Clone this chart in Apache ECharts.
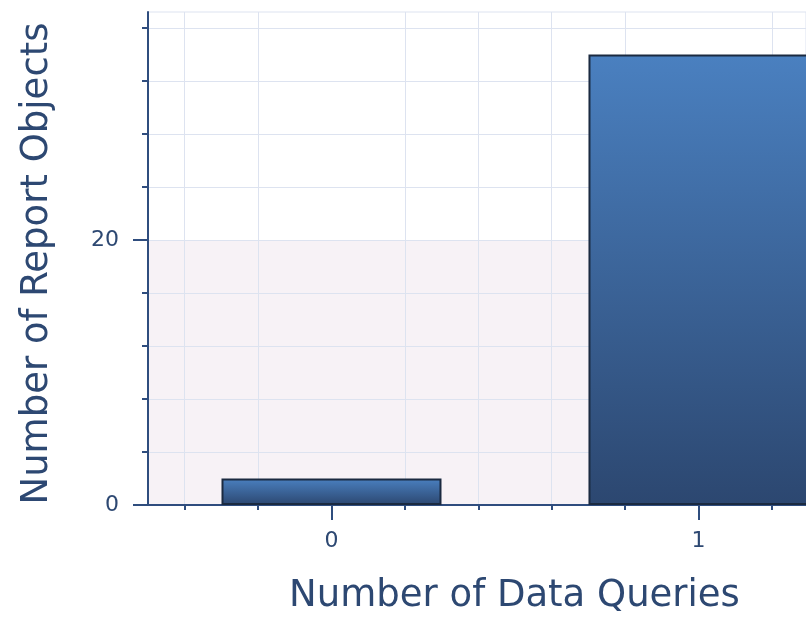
<!DOCTYPE html>
<html>
<head>
<meta charset="utf-8">
<script src="https://cdn.jsdelivr.net/npm/echarts@6/dist/echarts.min.js"></script>
<style>html,body{margin:0;padding:0;background:#fff;}#c{width:806px;height:620px;}</style>
</head>
<body>
<div id="c"></div>
<script>
// ---- data ----
const queryCounts = [0, 1];            // x categories (number of data queries)
const reportObjects = [2, 34];         // bar heights
const xMajorTicks = [0, 1];
const xMinorTicks = [-0.4, -0.2, 0.2, 0.4, 0.6, 0.8, 1.2];
const yMajorTicks = [0, 20];
const yMinorTicks = [4, 8, 12, 16, 20, 24, 28, 32, 36];

const textColor = '#2d4872';
const axisColor = '#2f4d7e';
const gridColor = '#dde3f0';
const font = 'DejaVu Sans';

const chart = echarts.init(document.getElementById('c'), null, {renderer: 'canvas'});
const barData = queryCounts.map((q, i) => [q, reportObjects[i]]);

chart.setOption({
  animation: false,
  backgroundColor: '#ffffff',
  grid: {left: 148, right: 0, top: 12, bottom: 115, show: true, borderColor: gridColor, borderWidth: 1, backgroundColor: 'transparent'},
  xAxis: [
    {
      type: 'value', min: -0.5, max: 1.293, position: 'bottom', z: 1,
      axisLine: {show: true, onZero: false, lineStyle: {color: axisColor, width: 2}},
      axisTick: {show: true, customValues: xMinorTicks, length: 5, lineStyle: {color: axisColor, width: 2}},
      axisLabel: {show: false},
      splitLine: {show: true, lineStyle: {color: gridColor, width: 1}},
      name: 'Number of Data Queries', nameLocation: 'middle', nameGap: 73,
      nameTextStyle: {color: textColor, fontFamily: font, fontSize: 37, padding: [0, 0, 0, 75]}
    },
    {
      type: 'value', min: -0.5, max: 1.293, position: 'bottom', z: 0,
      axisLine: {show: false, onZero: false},
      axisTick: {show: true, customValues: xMajorTicks, length: 15, lineStyle: {color: axisColor, width: 2}},
      axisLabel: {show: true, customValues: xMajorTicks, margin: 25, color: textColor, fontFamily: font, fontSize: 22},
      splitLine: {show: false}
    }
  ],
  yAxis: [
    {
      type: 'value', min: 0, max: 37.2, position: 'left', z: 0,
      axisLine: {show: false, onZero: false},
      axisTick: {show: true, customValues: yMajorTicks, length: 15, lineStyle: {color: axisColor, width: 2}},
      axisLabel: {show: true, customValues: yMajorTicks, margin: 29, color: textColor, fontFamily: font, fontSize: 22},
      splitLine: {show: false},
      splitArea: {show: true, areaStyle: {color: ['#f7f2f6', 'rgba(255,255,255,0)']}},
      name: 'Number of Report Objects', nameLocation: 'middle', nameGap: 92,
      nameTextStyle: {color: textColor, fontFamily: font, fontSize: 37, padding: [0, 10, 0, 0]}
    },
    {
      type: 'value', min: 0, max: 37.2, position: 'left', z: 1,
      axisLine: {show: true, onZero: false, lineStyle: {color: axisColor, width: 2}},
      axisTick: {show: true, customValues: yMinorTicks, length: 6, lineStyle: {color: axisColor, width: 2}},
      axisLabel: {show: false},
      splitLine: {show: true, lineStyle: {color: gridColor, width: 1}}
    }
  ],
  series: [{
    type: 'bar',
    xAxisIndex: 0, yAxisIndex: 0, z: 2,
    data: barData,
    barWidth: 220,
    clip: true,
    itemStyle: {
      borderColor: '#1b2a40', borderWidth: 2,
      color: new echarts.graphic.LinearGradient(0, 0, 0, 1, [
        {offset: 0, color: '#4a80c0'},
        {offset: 1, color: '#2c4770'}
      ])
    }
  }]
});
</script>
</body>
</html>
